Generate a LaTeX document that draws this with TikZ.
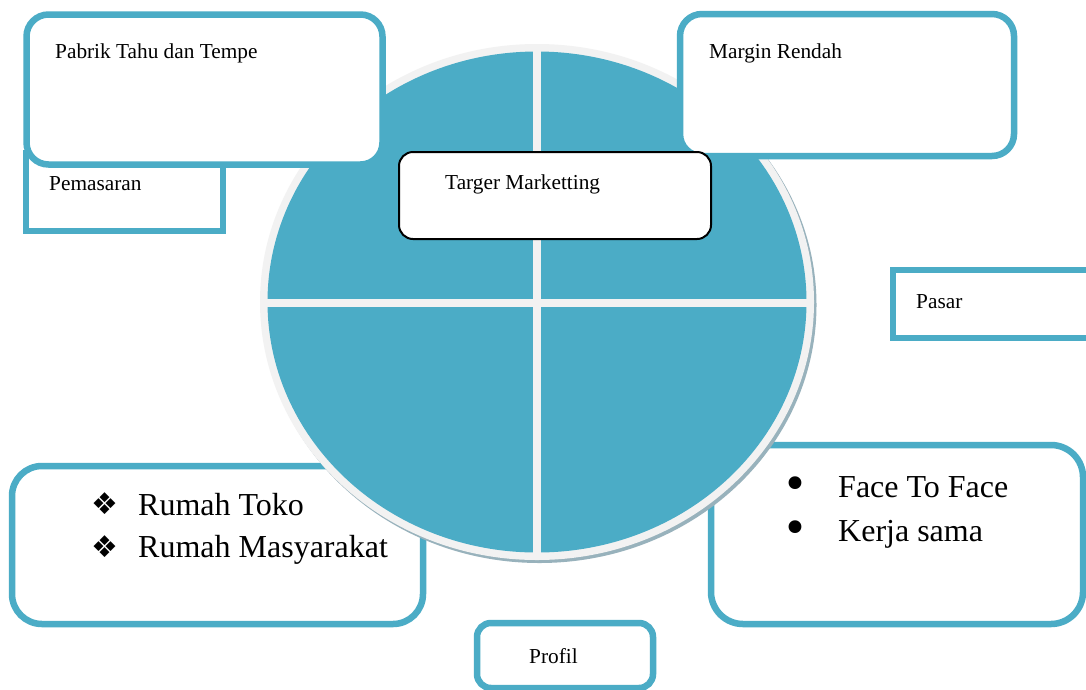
\documentclass[tikz,border=0pt]{standalone}
\usepackage{fontspec}
\setmainfont{Liberation Serif}
\newfontfamily\symfont{DejaVu Sans}
\definecolor{accblue}{HTML}{4BACC6}
\definecolor{ringgray}{HTML}{F2F2F2}
\definecolor{shadowgray}{HTML}{98B2BC}
\tikzset{
  bluebox/.style={draw=accblue, line width=6.5pt, fill=white, inner sep=0pt, outer sep=0pt, anchor=north west},
  blackbox/.style={draw=black, line width=2pt, fill=white, inner sep=0pt, outer sep=0pt, anchor=north west, rounded corners=14pt},
  smalltext/.style={inner sep=0pt, anchor=base west, font=\fontsize{21.3}{25}\selectfont},
  bigtext/.style={inner sep=0pt, anchor=base west, font=\fontsize{32}{38}\selectfont},
  diamondbullet/.style={inner sep=0pt, anchor=center, font=\symfont\fontsize{30}{33}\selectfont},
  dotbullet/.style={inner sep=0pt, anchor=center, font=\symfont\fontsize{44}{48}\selectfont}
}
\begin{document}
\begin{tikzpicture}[x=1pt,y=-1pt]
\useasboundingbox (0,0) rectangle (1086,689);
\clip (0,0) rectangle (1086,689);
\fill[white] (0,0) rectangle (1086,689);
% boxes behind the circle
\node[bluebox, rounded corners=30pt, minimum width=411pt, minimum height=158pt] (leftbox) at (12,466) {};
\node[bluebox, rounded corners=32pt, minimum width=372pt, minimum height=179pt] (rightbox) at (711,445) {};
\node[bluebox, minimum width=207pt, minimum height=68pt] (pasarbox) at (893,270) {};
\node[bluebox, rounded corners=14pt, minimum width=176pt, minimum height=65pt] (profilbox) at (477,623) {};
\node[bluebox, minimum width=197pt, minimum height=78pt] (pemasaranbox) at (26,153) {};
% circle
\fill[shadowgray] (539.5,305) ellipse [x radius=277, y radius=258];
\fill[ringgray] (537,302) ellipse [x radius=277, y radius=258];
\fill[accblue] (537,302) ellipse [x radius=269.5, y radius=250.5];
\draw[ringgray, line width=7.5pt] (537,46) -- (537,558);
\draw[ringgray, line width=7.5pt] (262,303) -- (812,303);
% boxes on top of the circle
\node[bluebox, rounded corners=22pt, minimum width=356pt, minimum height=150pt] (pabrikbox) at (26.5,14.5) {};
\node[bluebox, rounded corners=22pt, minimum width=334pt, minimum height=142pt] (marginbox) at (680,14) {};
\node[blackbox, minimum width=312pt, minimum height=87pt] (targerbox) at (399,152) {};
% texts
\node[smalltext] (pabrik) at (55,58) {Pabrik Tahu dan Tempe};
\node[smalltext] (pemasaran) at (49,190) {Pemasaran};
\node[smalltext] (margin) at (709,58) {Margin Rendah};
\node[smalltext] (targer) at (445,189) {Targer Marketting};
\node[smalltext] (pasar) at (916,308) {Pasar};
\node[smalltext] (profil) at (529,663) {Profil};
\node[diamondbullet] (bulletA) at (104.5,503.5) {❖};
\node[diamondbullet] (bulletB) at (104.5,547) {❖};
\node[bigtext] (rumahtoko) at (138,515) {Rumah Toko};
\node[bigtext] (rumahmas) at (138,557) {Rumah Masyarakat};
\node[dotbullet] (bulletC) at (795,488) {•};
\node[dotbullet] (bulletD) at (795,532) {•};
\node[bigtext] (face) at (838,497) {Face To Face};
\node[bigtext] (kerja) at (838,541) {Kerja sama};
\end{tikzpicture}
\end{document}
